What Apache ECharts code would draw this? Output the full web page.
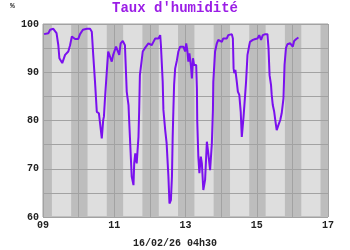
<!DOCTYPE html>
<html><head><meta charset="utf-8">
<script src="https://cdn.jsdelivr.net/npm/echarts@6/dist/echarts.min.js"></script>
<style>html,body{margin:0;padding:0;background:#fff}#c{width:350px;height:250px}</style>
</head><body><div id="c"></div>
<script>
const titleText = "Taux d'humidité";
const unitText = "%";
const footerText = "16/02/26 04h30";
const times = [9.03,9.15,9.20,9.29,9.34,9.38,9.43,9.46,9.50,9.54,9.57,9.62,9.67,9.71,9.76,9.81,9.85,9.90,9.99,10.04,10.12,10.23,10.32,10.37,10.41,10.46,10.51,10.57,10.60,10.65,10.69,10.71,10.74,10.79,10.83,10.88,10.93,10.97,11.05,11.10,11.14,11.18,11.24,11.30,11.35,11.40,11.42,11.44,11.49,11.54,11.56,11.59,11.63,11.68,11.70,11.72,11.80,11.87,11.91,11.96,12.01,12.05,12.10,12.15,12.24,12.29,12.31,12.36,12.38,12.43,12.47,12.52,12.55,12.59,12.62,12.64,12.66,12.68,12.71,12.76,12.80,12.85,12.94,12.99,13.02,13.05,13.08,13.11,13.15,13.18,13.21,13.24,13.30,13.32,13.33,13.36,13.39,13.43,13.46,13.50,13.55,13.60,13.64,13.69,13.74,13.77,13.78,13.83,13.88,13.92,13.97,14.02,14.06,14.16,14.20,14.25,14.30,14.33,14.35,14.37,14.40,14.44,14.47,14.51,14.55,14.58,14.63,14.67,14.70,14.74,14.79,14.81,14.89,14.96,15.02,15.07,15.12,15.17,15.24,15.30,15.33,15.36,15.40,15.42,15.45,15.49,15.52,15.56,15.61,15.66,15.70,15.75,15.78,15.82,15.86,15.94,15.99,16.01,16.05,16.11,16.17];
const humidity = [97.9,98.1,98.8,99.0,98.6,98.1,95.6,92.9,93.2,91.9,91.6,93.6,93.2,94.3,95.6,97.4,97.4,96.9,96.9,97.9,98.8,99.0,99.0,98.4,93.6,88.0,81.8,81.5,81.1,76.3,80.1,80.8,84.6,90.1,94.3,94.6,92.2,93.6,95.3,95.6,93.6,96.0,96.5,95.6,86.0,83.2,79.8,79.4,68.4,66.6,71.1,73.2,71.1,76.6,82.2,89.4,94.3,95.1,95.3,96.0,96.3,95.6,96.3,97.0,97.0,97.7,95.6,88.0,82.2,78.0,75.3,68.4,62.8,63.5,68.4,76.6,82.2,87.4,90.8,92.5,94.3,95.3,95.3,94.3,96.0,94.6,92.2,93.9,91.5,88.7,92.9,91.5,91.5,86.7,79.8,72.5,69.1,72.5,71.1,65.6,67.7,75.6,73.2,69.7,75.3,82.2,88.0,94.3,96.0,96.7,96.9,96.3,97.0,97.0,97.7,97.4,97.9,97.0,90.8,89.8,90.5,88.0,86.0,85.3,81.8,76.6,80.8,81.1,88.0,93.6,95.6,96.3,96.7,96.9,97.0,97.7,96.7,97.7,97.9,97.9,95.0,89.4,87.4,85.3,83.2,81.8,80.1,78.0,79.1,80.1,81.5,84.6,91.5,95.0,95.8,96.0,95.6,95.3,96.5,96.9,97.2];
const nightStart = [9, 9.79, 10.79, 11.79, 12.79, 13.79, 14.79, 15.79, 16.79];
const nightEnd = [9.25, 10.25, 11.25, 12.25, 13.25, 14.25, 15.25, 16.25, 17];

const mono = "'Liberation Mono', 'DejaVu Sans Mono', monospace";
const chart = echarts.init(document.getElementById('c'));
const bands = nightStart.map((s, i) => [{xAxis: s}, {xAxis: nightEnd[i]}]);
chart.setOption({
  animation: false,
  title: {text: titleText, left: 'center', top: 1, padding: 0,
    textStyle: {fontFamily: mono, fontWeight: 'bold', fontSize: 14, color: '#9b1de6'}},
  graphic: [
    {type: 'text', left: 10, top: 2, style: {text: unitText, font: "bold 8px " + mono, fill: '#333'}},
    {type: 'text', left: 'center', top: 238, style: {text: footerText, font: "bold 10px " + mono, fill: '#222'}}
  ],
  grid: {left: 43, right: 22, top: 24, bottom: 33, show: true, backgroundColor: '#dedede', borderColor: '#a0a0a0', borderWidth: 1, z: 0},
  xAxis: {type: 'value', min: 9, max: 17, interval: 1, z: 2,
    axisLine: {show: false}, axisTick: {show: false},
    splitLine: {show: true, lineStyle: {color: '#a2a2a2', width: 1}},
    axisLabel: {margin: 3, fontFamily: mono, fontWeight: 'bold', fontSize: 10, color: '#222',
      formatter: v => (v % 2 === 1 ? String(v).padStart(2, '0') : '')}},
  yAxis: {type: 'value', min: 60, max: 100, interval: 5, z: 2,
    axisLine: {show: false}, axisTick: {show: false},
    splitLine: {show: true, lineStyle: {color: '#a2a2a2', width: 1}},
    axisLabel: {margin: 4, fontFamily: mono, fontWeight: 'bold', fontSize: 10, color: '#222',
      formatter: v => (v % 10 === 0 ? String(v) : '')}},
  series: [
    {type: 'line', data: [], z: 1, silent: true,
      markArea: {silent: true, itemStyle: {color: '#bdbdbd'}, data: bands}},
    {type: 'line', z: 3, data: times.map((t, i) => [t, humidity[i]]),
      showSymbol: false, lineStyle: {color: '#7a10ee', width: 2}}
  ]
});
</script></body></html>
